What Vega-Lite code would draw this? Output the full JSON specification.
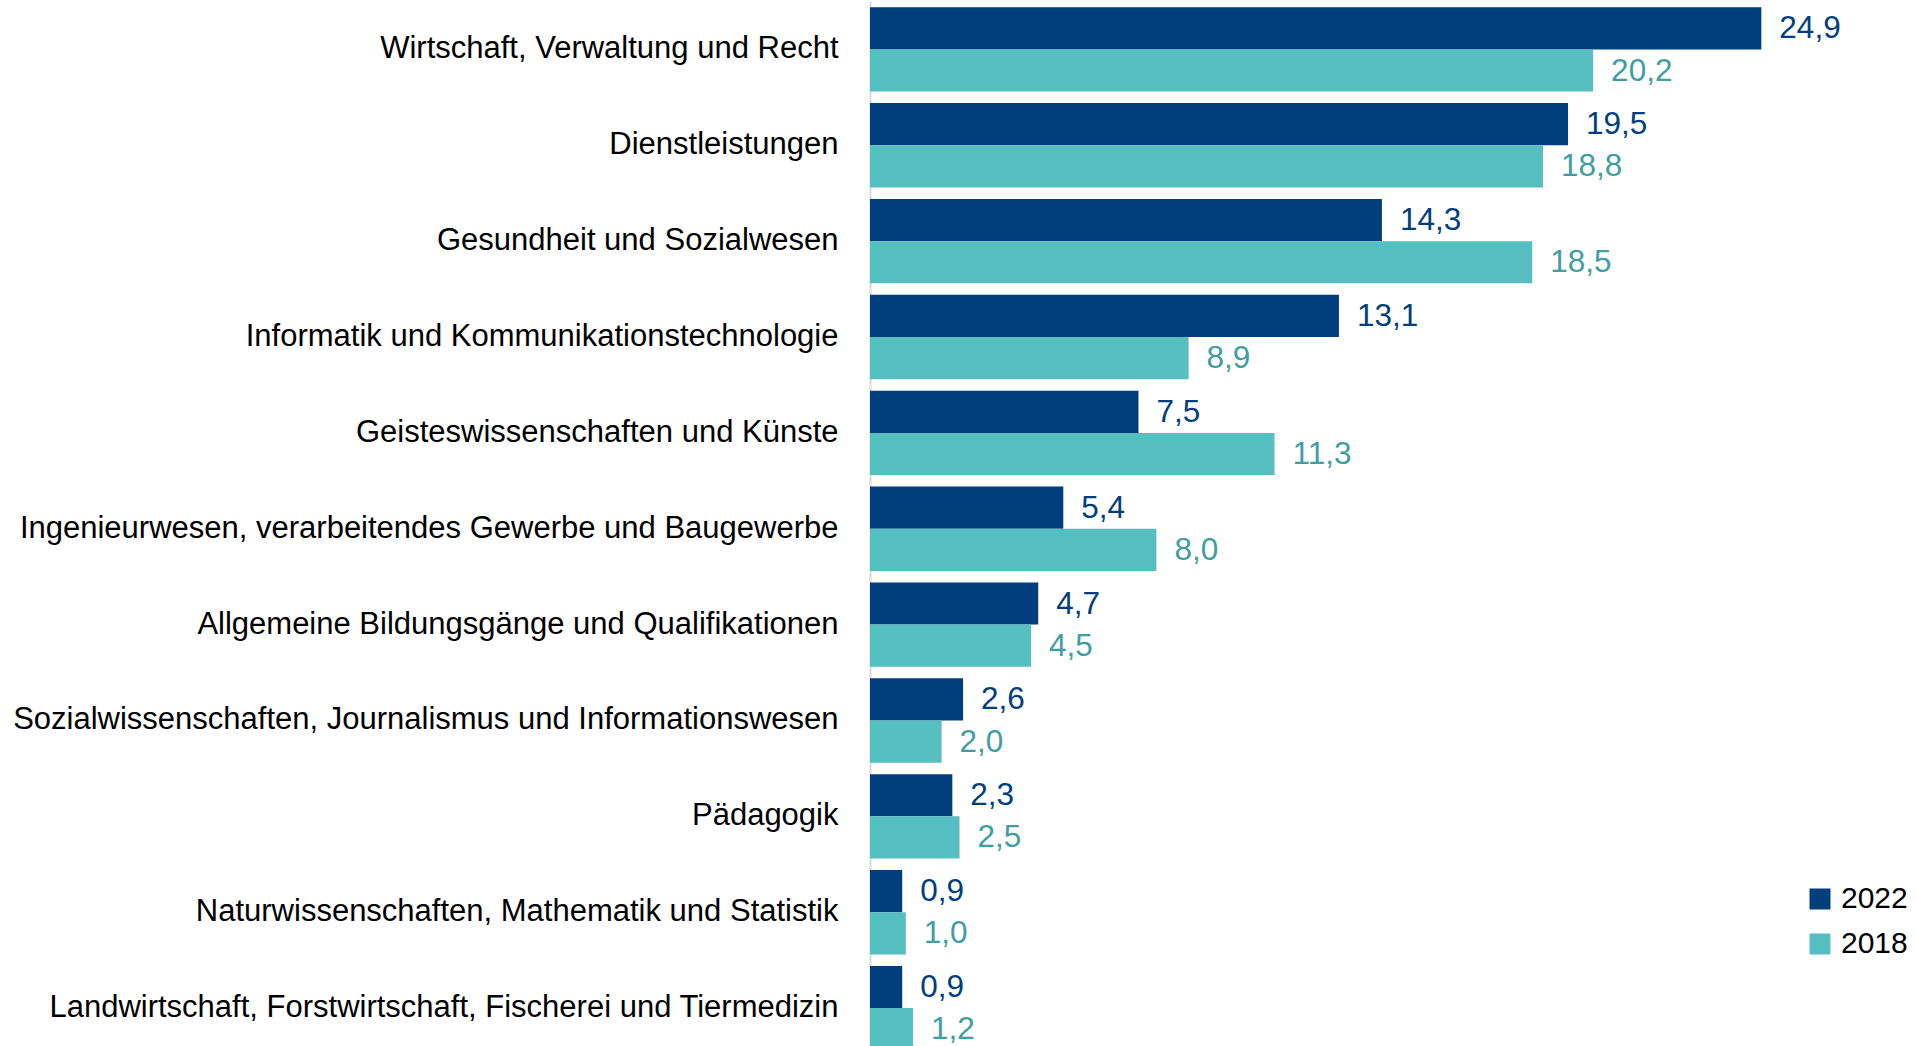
{
  "$schema": "https://vega.github.io/schema/vega-lite/v6.json",
  "width": 1046,
  "height": 1046,
  "autosize": {"type": "none"},
  "padding": {"left": 870, "top": 0, "right": 0, "bottom": 0},
  "background": "white",
  "config": {
    "view": {"stroke": null},
    "font": "Liberation Sans",
    "locale": {"number": {"decimal": ",", "thousands": ".", "grouping": [3], "currency": ["", " €"]}}
  },
  "data": {
    "values": [
      {"fach": "Wirtschaft, Verwaltung und Recht", "jahr": "2022", "wert": 24.9},
      {"fach": "Wirtschaft, Verwaltung und Recht", "jahr": "2018", "wert": 20.2},
      {"fach": "Dienstleistungen", "jahr": "2022", "wert": 19.5},
      {"fach": "Dienstleistungen", "jahr": "2018", "wert": 18.8},
      {"fach": "Gesundheit und Sozialwesen", "jahr": "2022", "wert": 14.3},
      {"fach": "Gesundheit und Sozialwesen", "jahr": "2018", "wert": 18.5},
      {"fach": "Informatik und Kommunikationstechnologie", "jahr": "2022", "wert": 13.1},
      {"fach": "Informatik und Kommunikationstechnologie", "jahr": "2018", "wert": 8.9},
      {"fach": "Geisteswissenschaften und Künste", "jahr": "2022", "wert": 7.5},
      {"fach": "Geisteswissenschaften und Künste", "jahr": "2018", "wert": 11.3},
      {"fach": "Ingenieurwesen, verarbeitendes Gewerbe und Baugewerbe", "jahr": "2022", "wert": 5.4},
      {"fach": "Ingenieurwesen, verarbeitendes Gewerbe und Baugewerbe", "jahr": "2018", "wert": 8.0},
      {"fach": "Allgemeine Bildungsgänge und Qualifikationen", "jahr": "2022", "wert": 4.7},
      {"fach": "Allgemeine Bildungsgänge und Qualifikationen", "jahr": "2018", "wert": 4.5},
      {"fach": "Sozialwissenschaften, Journalismus und Informationswesen", "jahr": "2022", "wert": 2.6},
      {"fach": "Sozialwissenschaften, Journalismus und Informationswesen", "jahr": "2018", "wert": 2.0},
      {"fach": "Pädagogik", "jahr": "2022", "wert": 2.3},
      {"fach": "Pädagogik", "jahr": "2018", "wert": 2.5},
      {"fach": "Naturwissenschaften, Mathematik und Statistik", "jahr": "2022", "wert": 0.9},
      {"fach": "Naturwissenschaften, Mathematik und Statistik", "jahr": "2018", "wert": 1.0},
      {"fach": "Landwirtschaft, Forstwirtschaft, Fischerei und Tiermedizin", "jahr": "2022", "wert": 0.9},
      {"fach": "Landwirtschaft, Forstwirtschaft, Fischerei und Tiermedizin", "jahr": "2018", "wert": 1.2}
    ]
  },
  "encoding": {
    "y": {
      "field": "fach", "type": "nominal", "sort": null,
      "scale": {"range": [1.5, 1056], "paddingInner": 0.12, "paddingOuter": 0.06},
      "axis": {
        "title": null, "ticks": false, "labelPadding": 32, "labelFontSize": 31,
        "labelColor": "#000000", "labelLimit": 0, "domainColor": "#d9d9d9", "domainWidth": 2, "grid": false
      }
    },
    "yOffset": {"field": "jahr", "type": "nominal", "sort": ["2022", "2018"]},
    "x": {
      "field": "wert", "type": "quantitative",
      "scale": {"domain": [0, 29.22], "nice": false, "zero": true},
      "axis": null
    }
  },
  "layer": [
    {
      "mark": {"type": "bar"},
      "encoding": {
        "color": {
          "field": "jahr", "type": "nominal",
          "scale": {"domain": ["2022", "2018"], "range": ["#003e7e", "#55bec0"]},
          "legend": {
            "title": null, "orient": "none", "legendX": 935, "legendY": 884,
            "symbolType": "square", "symbolSize": 441, "symbolStrokeWidth": 0,
            "labelFontSize": 30, "labelColor": "#000000", "labelOffset": 6, "rowPadding": 15
          }
        }
      }
    },
    {
      "mark": {"type": "text", "align": "left", "baseline": "middle", "dx": 18, "dy": 1, "fontSize": 31.5},
      "encoding": {
        "text": {"field": "wert", "type": "quantitative", "format": ".1f"},
        "color": {
          "field": "jahr", "type": "nominal",
          "scale": {"domain": ["2022", "2018"], "range": ["#003e7e", "#3f9ea0"]},
          "legend": null
        }
      }
    }
  ],
  "resolve": {"scale": {"color": "independent"}}
}
